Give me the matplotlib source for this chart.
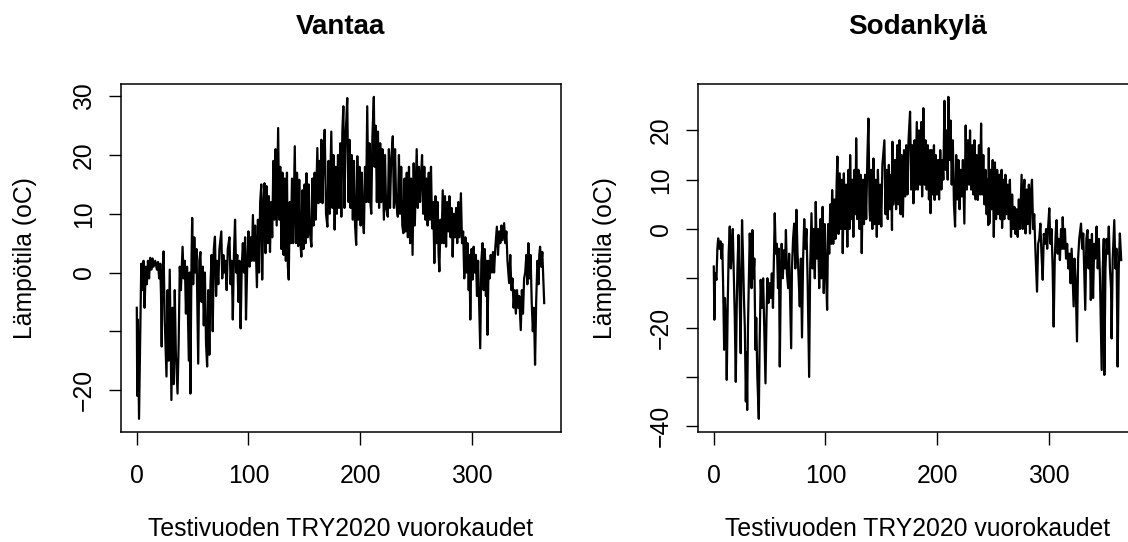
import matplotlib
matplotlib.use("Agg")
import matplotlib.pyplot as plt

plt.rcParams['font.family'] = ['Liberation Sans', 'DejaVu Sans']

vantaa_points = [
    (0.0, -6), (0.4, -21), (1.0, -8), (2.0, -24.9), (3.0, -12), (4.0, 1.5), (5.0, -3), (6.0, 2.0),
    (7.0, -6), (8.0, 1.0), (9.0, -2), (10.0, 2.0), (11.0, -1), (12.0, 2.5), (13.0, 0.5), (14.0, 2.4),
    (15.0, 1.0), (16.5, 2.0), (18.0, 0.5), (19.0, 1.8), (20.0, -1.0), (21.0, 1.5), (21.7, -4),
    (22.3, -12.6), (23.0, 0), (24.0, 3.6), (25.0, -8), (26.6, -17.7), (27.5, -3), (28.5, -15),
    (29.5, 0.5), (31.0, -21.7), (32.0, -6), (33.0, -19), (34.0, -3), (35.0, -14), (36.5, -20.6),
    (37.5, -12), (38.5, 1), (39.5, -3), (41.0, 4.4), (42.0, -1), (43.0, 2), (44.0, -7), (45.0, 1),
    (46.6, -15), (47.3, 0), (48.0, -20.6), (49.0, 2), (49.6, 9.3), (50.5, -2), (51.5, 6), (52.5, 0),
    (53.5, 4), (55.0, -15.5), (56.0, 2), (57.0, 3.5), (58.0, -5), (59.0, 1), (60.0, -9), (61.0, 0),
    (62.0, -12), (63.0, -16), (64.0, -3), (65.0, -14), (66.0, -2), (67.0, 3), (68.0, -10), (69.0, 4),
    (70.0, 6.1), (71.0, -4), (72.0, 2), (73.0, -2), (74.0, 4), (75.7, 7), (76.5, -1), (77.5, 3),
    (78.5, 0), (79.5, 2), (80.5, -3), (81.5, 4), (83.0, 6), (84.0, -2), (85.0, 2), (86.0, -8),
    (87.0, 3), (88.0, 9), (89.0, 0), (90.0, 3), (91.0, -5), (92.0, 2), (93.0, -9.5), (94.0, 1),
    (95.0, 5), (96.0, 0), (97.0, 6), (97.8, -8), (99.0, 2), (100.0, 7), (101.0, 1), (102.0, 6),
    (103.0, 2), (104.0, 9.8), (105.0, 2), (106.0, 8), (107.6, -2.5), (108.5, 9), (109.5, 0),
    (110.5, 12), (111.5, 15), (112.3, -1.2), (113.5, 12), (114.4, 15.2),
    (115.3, 3.3), (116.3, 14.7), (117.3, 5), (118.3, 13), (119.3, 3.5), (120.3, 12), (121.3, 6),
    (122.3, 19), (123.3, 9), (124.3, 21), (125.3, 8), (126.6, 24.6), (127.5, 9), (128.5, 18),
    (129.5, 4), (130.5, 17), (131.5, 3), (132.5, 16), (133.5, 2), (134.5, 17), (135.3, 1),
    (136.1, -1.2), (137.0, 12), (138.0, 5), (139.0, 16), (140.0, 5), (141.5, 21.5), (142.5, 5),
    (143.5, 17), (144.5, 4.5), (145.5, 15.8), (146.5, 5), (147.4, 2.7), (148.3, 14), (149.3, 4),
    (150.3, 15), (151.2, 5), (152.0, 16.9), (153.0, 6), (154.0, 15), (155.0, 7), (156.4, 4.4),
    (157.3, 16), (158.3, 8), (159.3, 17), (160.3, 9), (161.7, 21.2), (162.7, 11.8), (163.7, 19),
    (164.5, 12), (165.3, 22.6), (166.3, 11.8), (167.3, 20), (168.3, 24.3), (169.5, 10),
    (170.7, 7.8), (171.7, 19), (172.7, 10), (174.2, 24), (175.2, 11), (176.2, 20), (177.2, 7.3),
    (178.2, 18), (179.2, 10), (180.2, 20), (181.2, 11), (182.2, 22), (183.2, 9.5), (184.1, 24),
    (185.0, 28.3), (186.0, 11), (187.0, 23), (188.5, 29.7), (189.5, 12), (190.5, 22.6),
    (191.5, 11), (192.5, 20), (193.5, 9), (194.5, 19), (195.5, 8), (196.5, 4.7), (197.5, 19.8),
    (198.5, 9), (199.5, 18), (200.5, 8), (201.5, 17), (202.5, 9), (203.4, 6.7), (204.4, 18),
    (205.4, 12), (206.4, 28.3), (207.4, 12), (208.4, 22), (209.2, 12), (210.0, 10), (211.0, 23),
    (212.3, 29.9), (213.0, 18), (214.0, 25), (215.0, 12), (216.0, 24), (217.0, 11), (218.0, 22),
    (219.0, 12), (220.0, 21), (221.3, 9), (222.3, 20), (223.3, 11), (224.8, 9.5), (225.8, 21),
    (226.8, 11), (227.8, 19), (229.3, 23.2), (230.3, 11), (231.3, 21), (232.3, 12), (233.8, 9.5),
    (234.8, 20), (235.8, 10), (236.8, 18), (237.8, 8), (238.8, 6.7), (239.8, 16), (240.8, 7),
    (241.8, 17), (242.8, 6), (243.8, 18), (244.8, 5), (245.7, 16), (247.0, 3), (248.0, 18.6),
    (249.0, 8), (250.7, 21), (251.7, 11), (252.7, 18), (253.7, 12), (254.5, 16), (255.5, 20),
    (256.5, 10), (257.5, 18), (258.5, 9), (259.5, 16), (260.5, 8), (261.5, 17), (262.5, 9),
    (263.5, 18), (264.5, 7.5), (265.5, 12), (266.5, 1.6), (267.5, 13), (268.5, 5), (269.5, 12),
    (270.3, 3), (271.0, 0.2), (272.0, 9), (273.0, 5), (274.0, 14), (275.0, 5), (276.0, 13),
    (277.0, 4.4), (278.0, 12), (279.0, 7), (280.0, 13), (281.0, 6), (282.0, 11), (282.9, 2.7),
    (284.0, 10), (285.0, 6), (286.0, 11), (287.0, 5), (288.0, 12), (289.0, 6), (290.3, 13.5),
    (291.3, 5), (292.3, 7), (293.3, -1), (294.3, 6), (295.3, 0), (296.3, 5), (297.3, -3),
    (298.0, 3), (298.7, -8), (299.7, 4), (300.7, -1.2), (301.7, 4.4), (302.7, 0), (303.7, 3),
    (304.7, -4), (305.7, 2), (306.7, -6), (307.6, -12.9), (308.6, 2), (309.7, 5), (310.7, -3),
    (311.7, 4), (312.7, -4), (313.5, 2), (314.1, -10.6), (315.1, 2), (316.0, -1), (317.0, 3),
    (318.0, 0), (319.0, 3.5), (320.0, 0), (321.0, 4), (322.5, 7.8), (323.5, 3), (324.6, 7),
    (325.6, 5), (326.6, 8), (327.6, 5.5), (329.0, 8.4), (330.0, 5), (331.0, 7), (332.0, 2),
    (333.5, -1.8), (334.5, 3), (335.5, -3), (336.5, -1), (337.5, -6), (338.5, -3), (339.5, -7),
    (340.5, -3), (341.5, -6), (342.5, -4), (343.9, -9.8), (344.9, -3), (345.9, -7), (346.9, -1),
    (347.9, 0), (348.9, 3), (349.8, -2), (350.7, 5), (351.7, -1), (352.7, 3), (353.7, -5),
    (354.7, -10), (355.7, -6), (356.7, -15.7), (357.7, -5), (358.8, 2), (359.8, -2), (360.5, 3),
    (361.2, 4.4), (362.2, 1), (363.2, 3.5), (364.9, -5.2),
]

sodankyla_points = [
    (0.0, -7.6), (0.5, -18.4), (1.2, -9), (2.4, -10.3), (3.2, -4), (3.9, -1.9), (5.0, -4),
    (6.0, -2.5), (6.9, -6), (7.6, -3), (8.4, -12), (9.3, -24.5), (10.0, -14), (11.0, -20),
    (11.6, -30.6), (12.5, -15), (13.3, -5), (14.3, 0.5), (15.3, -8), (16.3, -3), (17.0, 0),
    (18.0, -10), (18.8, -18), (19.7, -31), (20.5, -16), (21.2, -8), (22.1, -1.2), (22.8, -10),
    (23.5, -18), (24.1, -25.2), (24.6, -10), (25.3, 1.8), (26.2, -6), (27.0, -14), (27.8, -20),
    (28.7, -35), (29.3, -25), (29.9, -36.7), (30.6, -20), (31.5, -9), (32.2, -0.9), (33.0, -6),
    (33.8, -12), (34.6, -0.2), (35.5, -10), (36.3, -6), (37.3, -24.5), (38.0, -18), (39.0, -30),
    (40.3, -38.5), (41.0, -24), (42.0, -10.3), (43.0, -16), (44.2, -10), (45.0, -18),
    (46.3, -31.3), (47.2, -18), (48.0, -10), (49.0, -15), (50.0, -11), (51.0, -14), (52.0, -9),
    (53.0, -16), (54.6, 3.2), (55.5, -5), (56.5, -3), (57.5, -12), (58.3, -4), (59.1, -27.9),
    (60.0, -10), (60.8, -3), (61.8, -10), (62.8, -4.3), (63.8, -8), (64.6, -0.2), (65.5, -9),
    (66.6, -12), (67.5, -5), (68.5, -16), (69.3, -24.2), (70.0, -8), (71.0, -2), (72.0, 1.1),
    (73.0, -8), (74.0, 3.9), (75.0, -5), (76.0, -10), (77.0, -15.7), (78.0, -6), (79.0, -22),
    (80.0, -6), (81.0, 2), (82.0, -4), (83.0, 0), (84.0, -10), (85.4, -30), (86.3, -8),
    (87.5, 3.2), (88.5, -8), (89.5, 0), (90.5, -10), (91.3, 5.5), (92.3, -6), (93.4, 0),
    (94.4, -12), (95.4, 2), (96.4, -10), (97.5, 4.5), (98.5, -13), (99.4, 1), (100.4, -8),
    (101.5, -16.4), (102.4, 1), (103.4, -5), (104.3, 5), (105.3, -3), (106.0, 7.9), (107.0, -3),
    (108.0, 6), (109.0, -2), (110.0, 9), (110.7, 14.7), (111.7, -1), (112.8, 11.3), (113.8, 0),
    (114.8, 10), (115.5, -4.9),
    (116.5, 11.3), (117.5, 0), (118.5, 9), (119.6, -3.6), (120.6, 12), (121.6, 0), (122.1, 15),
    (123.0, 2), (124.0, 10), (125.0, -1.6), (126.0, 12), (127.0, 3), (127.5, 18.4), (128.5, 2),
    (129.5, 12), (130.5, 0), (131.5, 11), (132.5, -4.9), (133.5, 10), (134.5, 1), (135.5, 11),
    (136.5, 2), (137.5, 14), (138.5, 22.4), (139.5, 4), (140.0, 1.7), (141.0, 12), (142.0, 0),
    (143.0, 14.3), (144.0, 1), (145.0, 10), (146.0, -1.6), (147.0, 12), (148.0, 1), (149.0, 9),
    (150.0, 0.5), (151.0, 13), (152.8, 18), (153.8, 3), (154.8, 12), (155.8, 2), (156.8, 13),
    (157.8, 4), (158.8, 11), (159.6, -0.2), (160.0, 17.7), (161.0, 5), (162.3, 14), (163.3, 4),
    (164.3, 17), (165.3, 5), (166.3, 18), (167.3, 3), (168.3, 15), (169.4, 2.5), (170.4, 16),
    (171.4, 6.6), (172.4, 17), (173.4, 7), (174.4, 18), (175.8, 23.8), (176.8, 8), (177.8, 17),
    (178.8, 5.2), (179.8, 18), (180.8, 8), (181.8, 21.7), (182.8, 8), (183.8, 20), (184.8, 9),
    (185.8, 21.7), (186.6, 6.6), (187.7, 24.5), (188.7, 9), (189.7, 18), (190.7, 8), (191.7, 17),
    (192.7, 6), (193.7, 16), (194.1, 3.2), (195.2, 16), (196.2, 7), (197.2, 17), (197.8, 5.9),
    (198.8, 15), (199.8, 7), (200.8, 14), (201.8, 6), (202.8, 16), (203.8, 8), (204.8, 14),
    (205.6, 10), (206.6, 26), (207.6, 12), (208.6, 20), (209.5, 10), (210.1, 26.8), (211.1, 14),
    (212.1, 22), (213.1, 9), (214.1, 18), (215.1, 5), (216.1, 0.5), (217.1, 15), (218.1, 6),
    (219.1, 14), (220.1, 4), (221.1, 12), (222.1, 6.6), (223.1, 14), (224.4, 1.1), (225.6, 21),
    (226.6, 8), (227.6, 18), (228.6, 9), (229.5, 20), (230.5, 8), (231.5, 17), (232.5, 7),
    (233.5, 18), (234.5, 6), (235.5, 15), (236.5, 5.9), (237.5, 17), (238.5, 7), (239.4, 21.4),
    (240.4, 7), (241.4, 15), (242.4, 5), (243.4, 12), (244.4, 3), (245.0, 10), (245.8, 0.8),
    (246.3, 16.4), (246.8, 1.1), (247.8, 12), (248.8, 4), (249.8, 14), (250.8, -1.6),
    (251.8, 13.5), (252.8, 2), (253.8, 12), (254.8, 3), (255.8, 11), (256.8, 2), (257.8, 12),
    (258.2, 0.2), (259.2, 10), (260.2, 2), (261.2, 11), (262.2, 3), (263.2, 9), (264.2, 2),
    (265.2, 10), (266.2, -1.6), (267.2, 7), (268.2, 0), (269.2, 4.5), (270.2, -1), (271.2, 4),
    (272.2, -1.6), (273.2, 6), (274.2, 0), (275.7, 11), (276.7, 0), (277.7, 8), (278.2, 10),
    (279.2, -0.9), (280.2, 8), (281.2, 1), (282.2, 9), (283.2, -0.9), (284.2, 8), (285.0, 10),
    (286.0, 0), (287.0, 3), (288.0, -4), (289.5, -12.7), (290.5, -3), (291.5, -2), (292.5, 1.1),
    (293.5, -5), (294.6, -10.3), (295.6, -1), (296.6, -3), (297.6, 0), (298.6, -4), (299.6, 1),
    (300.5, 4.2), (301.5, -3), (302.5, 0), (303.5, -8), (304.4, -19.8), (305.4, -6), (306.4, 0),
    (307.0, 1.8), (308.0, -5), (309.0, -2), (310.0, -6.3), (311.0, 0), (312.0, -4), (312.5, 2.4),
    (313.5, -4), (314.5, 0), (315.5, -6), (316.5, -3), (317.5, -8), (318.5, -5), (319.5, -11),
    (320.5, -4), (322.3, -15.7), (323.0, -6), (324.0, -10), (325.3, -22.8), (326.3, -6),
    (327.3, -2), (328.9, 1.1), (329.9, -4), (330.9, -0.9), (332.7, -16.4), (333.7, -2),
    (334.7, -0.2), (335.7, -8), (336.7, -2.2), (337.7, -14.4), (338.7, -1), (339.7, -14),
    (340.7, -3), (341.7, -6), (342.9, 0.5), (343.9, -8), (344.9, -2), (345.9, -10),
    (347.4, -28.6), (348.4, -8), (349.3, -2), (349.8, -29.6), (350.8, -8), (351.8, -2),
    (352.8, -5), (353.8, 0.5), (354.8, -8), (355.8, -12), (356.3, -22.2), (357.3, -6),
    (358.7, 1.8), (359.7, -8), (360.7, -4), (361.7, -27.9), (362.7, -8), (363.7, -0.9),
    (364.9, -6.3),
]

x_ticks = [0, 100, 200, 300]
vantaa_yticks = [-20, -10, 0, 10, 20, 30]
vantaa_ylabels = ['\u221220', '', '0', '10', '20', '30']
sodankyla_yticks = [-40, -30, -20, -10, 0, 10, 20]
sodankyla_ylabels = ['\u221240', '', '\u221220', '', '0', '10', '20']

xlabel = 'Testivuoden TRY2020 vuorokaudet'
ylabel = 'Lämpötila (oC)'

fig = plt.figure(figsize=(11.28, 5.42), dpi=100)
W, H = 1128, 542
FS = 17.8


def add_panel(left_px, points, title, yticks, ylabels, ylabel_px):
    ax = fig.add_axes([left_px / W, (H - 431.7) / H, 440 / W, 347.7 / H])
    days, temps = zip(*points)
    ax.plot(days, temps, color='black', linewidth=1.6)
    ax.margins(x=0.04, y=0.04)

    ax.set_xticks(x_ticks)
    ax.set_xticklabels([str(t) for t in x_ticks])
    ax.set_yticks(yticks)
    ax.set_yticklabels(ylabels, rotation=90, va='center')
    ax.tick_params(direction='out', length=9, width=1.0, labelsize=FS, color='black')
    ax.tick_params(axis='x', pad=14.0)
    ax.tick_params(axis='y', pad=8.5)
    for s in ax.spines.values():
        s.set_linewidth(1.1)

    ax.text(0.5, (431.7 - 34.5) / 347.7, title, transform=ax.transAxes,
            ha='center', va='baseline', fontsize=20, fontweight='bold')
    ax.text(0.5, -(536 - 431.7) / 347.7, xlabel, transform=ax.transAxes,
            ha='center', va='baseline', fontsize=FS)
    ax.text(-(left_px - ylabel_px) / 440, 0.5, ylabel, transform=ax.transAxes,
            ha='center', va='center', rotation=90, fontsize=FS)
    return ax


add_panel(120.5, vantaa_points, 'Vantaa', vantaa_yticks, vantaa_ylabels, 25)
add_panel(697.5, sodankyla_points, 'Sodankylä', sodankyla_yticks, sodankyla_ylabels, 605)

fig.savefig('out.png', dpi=100)
